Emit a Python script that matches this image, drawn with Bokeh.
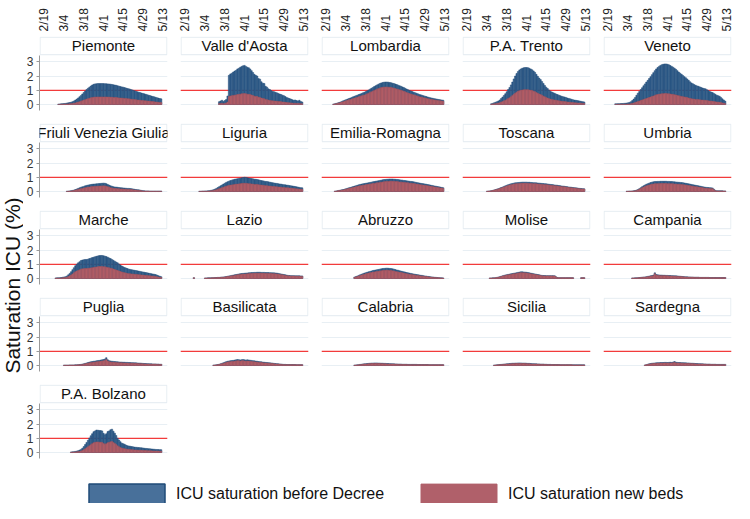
import math
import numpy as np
from bokeh.plotting import figure
from bokeh.layouts import row, column
from bokeh.models import (Range1d, LinearAxis, FixedTicker, Span, Grid, Label,
                          ColumnDataSource, Legend, LegendItem)
from bokeh.embed import file_html
from bokeh.resources import INLINE
from bokeh.core.properties import value

# ---------------- data ----------------
# x = days counted from 19 Feb 2020
tick_days = [0, 14, 28, 42, 56, 70, 84]
tick_labels = ["2/19", "3/4", "3/18", "4/1", "4/15", "4/29", "5/13"]
y_ticks = [0, 1, 2, 3]
threshold = 1.0
y_label = "Saturation ICU (%)"
legend_labels = ["ICU saturation before Decree", "ICU saturation new beds"]

regions = ["Piemonte", "Valle d'Aosta", "Lombardia", "P.A. Trento", "Veneto",
           "Friuli Venezia Giulia", "Liguria", "Emilia-Romagna", "Toscana", "Umbria",
           "Marche", "Lazio", "Abruzzo", "Molise", "Campania",
           "Puglia", "Basilicata", "Calabria", "Sicilia", "Sardegna",
           "P.A. Bolzano"]
# first day of each region's series (days from 2/19)
start_days = [10, 24, 5, 17, 5, 16, 10, 6, 14, 13, 8, 6, 20, 16, 17, 14, 20, 20, 19, 26, 19]

# daily values, in hundredths of a percent
piemonte_before = [3,4,5,6,7,8,10,12,14,16, 20,25,31,38,46,55,63,74,85,95, 105,114,122,130,137,142,145,146,147,147, 147,147,147,146,146,145,144,143,141,139, 137,135,132,129,127,124,122,119,116,113, 110,107,104,100,97,94,90,87,84,81, 78,75,72,69,66,63,60,57,54,51, 48,45,42,40]
piemonte_new = [1,1,2,2,3,3,4,4,5,6, 7,9,11,14,17,20,23,27,31,34, 38,41,44,47,49,51,52,53,53,53, 53,53,53,53,53,52,52,51,51,50, 49,49,48,46,46,45,44,43,42,41, 40,39,37,36,35,34,32,31,30,29, 28,27,26,25,24,23,22,21,19,18, 17,16,15,14]

valle_aosta_before = [20,25,30,22,28,35, 60,205,215,220,228,235,240,250,255,262, 268,272,275,268,262,258,250,238,225,212, 205,200,182,178,160,150,148,128,122,110, 105,98,92,90,86,82,78,74,70,66, 62,56,50,46,42,38,34,30,32,28, 25,30,22,18]
valle_aosta_new = [6,7,8,6,8,10, 17,57,60,62,64,66,67,70,71,73, 75,76,77,75,73,72,70,67,63,59, 57,56,51,50,45,42,41,36,34,31, 29,27,26,25,24,23,22,21,20,18, 17,16,14,13,12,11,10,8,9,8, 7,8,6,5]

lombardia_before = [3,5,8,11,14, 18,22,26,30,34,38,42,46,50,54, 58,62,66,70,74,78,82,86,91,96, 102,108,114,120,126,132,138,143,148,152, 155,157,158,158,157,155,153,150,147,144, 140,136,132,128,124,119,114,109,104,99, 95,91,87,83,79,75,71,68,65,62, 59,56,53,50,47,45,43,41,39,37, 35,33,32,30]
lombardia_new = [2,4,6,9,11, 14,17,20,23,27,30,33,36,39,42, 45,48,51,55,58,61,64,67,71,75, 80,84,89,94,98,103,108,112,115,119, 121,122,123,123,122,121,119,117,115,112, 109,106,103,100,97,93,89,85,81,77, 74,71,68,65,62,59,55,53,51,48, 46,44,41,39,37,35,34,32,30,29, 27,26,25,23]

trento_before = [5,8,12, 16,20,25,32,42,52,64,76,90,105, 120,138,158,180,200,218,232,243,250,255, 258,260,260,259,255,250,244,236,226,212, 198,186,175,162,148,134,122,112,102,94, 88,83,79,74,70,66,62,58,55,53, 50,46,43,40,37,34,31,30,28,26, 24,22,20,18]
trento_new = [2,3,5, 6,8,10,13,17,21,26,30,36,42, 48,55,63,72,80,87,93,97,100,102, 103,104,104,104,102,100,98,94,90,85, 79,74,70,65,59,54,49,45,41,38, 35,33,32,30,28,26,25,23,22,21, 20,18,17,16,15,14,12,12,11,10, 10,9,8,7]

veneto_before = [5,5,6,6,7, 7,8,9,10,12,15,20,28,38,50, 65,80,92,105,118,132,145,158,170,183, 196,210,224,238,250,260,268,275,280,283, 285,285,283,279,274,268,262,255,247,238, 228,220,212,204,196,188,180,170,160,152, 146,140,135,131,128,124,120,116,112,110, 104,98,92,88,84,78,72,66,62,58, 50,40,32,24]
veneto_new = [1,1,2,2,2, 2,2,2,3,3,4,5,8,10,14, 18,22,25,28,32,36,39,43,46,49, 53,57,60,64,68,70,72,74,76,76, 77,77,76,75,74,72,71,69,67,64, 62,59,57,55,53,51,49,46,43,41, 39,38,36,35,35,33,32,31,30,30, 28,26,25,24,23,21,19,18,17,16, 14,11,9,6]

friuli_before = [2,3,4,6, 8,10,14,18,22,26,30,33,36,40, 43,45,47,49,51,52,53,54,55,56, 57,58,59,58,55,50,45,40,37,34, 32,31,30,28,27,26,25,24,23,22, 22,21,20,18,16,14,13,12,10,8, 6,5,4,4,4,3,3,3,3,3, 3,3,3,3]
friuli_new = [1,2,3,4, 5,7,10,12,15,18,20,22,24,27, 29,31,32,33,35,35,36,37,37,38, 39,39,40,39,37,34,31,27,25,23, 22,21,20,19,18,18,17,16,16,15, 15,14,14,12,11,10,9,8,7,5, 4,3,3,3,3,2,2,2,2,2, 2,2,2,2]

liguria_before = [2,2,3,3,4,4,5,6,8,10, 13,17,22,28,34,40,46,52,58,64, 69,73,77,80,83,86,88,90,92,94, 96,98,100,99,97,95,93,91,89,87, 86,84,82,79,77,75,73,71,70,68, 66,64,62,60,58,57,55,53,52,50, 48,47,45,44,42,40,39,37,35,33, 31,29,27,26]
liguria_new = [1,1,2,2,2,2,3,3,5,6, 8,10,13,16,20,23,27,30,34,37, 40,42,45,46,48,50,51,52,53,55, 56,57,58,57,56,55,54,53,52,50, 50,49,48,46,45,44,42,41,41,39, 38,37,36,35,34,33,32,31,30,29, 28,27,26,26,24,23,23,21,20,19, 18,17,16,15]

emilia_before = [2,4,6,8, 10,12,14,17,20,23,26,29,32,35, 38,41,44,47,50,52,54,56,58,60, 62,64,66,68,70,72,74,76,78,80, 82,84,85,86,87,88,88,88,87,86, 85,84,82,81,80,78,77,75,74,72, 71,70,68,66,64,62,60,58,56,55, 53,51,49,47,45,43,41,39,37,35, 33,31,29,27]
emilia_new = [2,3,5,7, 8,10,11,14,16,19,21,24,26,29, 31,34,36,39,41,43,44,46,48,49, 51,52,54,56,57,59,61,62,64,66, 67,69,70,71,71,72,72,72,71,71, 70,69,67,66,66,64,63,62,61,59, 58,57,56,54,52,51,49,48,46,45, 43,42,40,39,37,35,34,32,30,29, 27,25,24,22]

toscana_before = [2,3,4,6,8,11, 14,17,20,24,28,32,36,40,44,48, 51,54,57,59,61,62,63,64,65,66, 66,66,66,65,65,64,63,62,62,61, 60,59,58,57,56,55,54,53,51,50, 49,48,46,45,44,42,41,39,38,37, 35,34,32,31,30,28,27,26,25,23, 22,21,20,19]
toscana_new = [2,3,4,5,7,10, 12,15,18,21,25,28,32,35,39,42, 45,48,50,52,54,55,55,56,57,58, 58,58,58,57,57,56,55,55,55,54, 53,52,51,50,49,48,48,47,45,44, 43,42,40,40,39,37,36,34,33,33, 31,30,28,27,26,25,24,23,22,20, 19,18,18,17]

umbria_before = [2,2,3,3,4,5,7, 10,14,20,27,34,40,46,51,55,59, 63,66,68,70,70,71,71,72,72,72, 72,72,71,71,70,70,69,68,67,66, 65,64,63,62,60,58,56,54,52,50, 48,46,44,42,40,38,36,34,32,30, 29,28,27,26,25,16,8,5,5,5, 5,5,4,4]
umbria_new = [1,2,2,2,3,4,5, 8,11,16,21,27,31,36,40,43,46, 49,51,53,55,55,55,55,56,56,56, 56,56,55,55,55,55,54,53,52,51, 51,50,49,48,47,45,44,42,41,39, 37,36,34,33,31,30,28,27,25,23, 23,22,21,20,20,12,6,4,4,4, 4,4,3,3]

marche_before = [4,5, 5,6,7,9,11,13,18,26,36,48, 62,76,90,100,110,118,126,130,132,134, 134,136,140,143,147,150,153,156,159,161, 162,162,160,157,154,150,145,140,134,128, 122,116,110,102,95,88,82,78,74,70, 66,64,62,60,58,56,54,52,50,48, 46,44,42,40,38,36,34,32,30,28, 24,20,16,13]
marche_new = [2,3, 3,3,4,5,6,7,9,14,19,25, 32,40,47,52,57,61,66,68,69,70, 70,71,73,74,76,78,80,81,83,84, 84,84,83,82,80,78,75,73,70,67, 63,60,57,53,49,46,43,41,38,36, 34,33,32,31,30,29,28,27,26,25, 24,23,22,21,20,19,18,17,16,15, 12,10,8,7]

lazio_before = [6,None,None,None, None,None,None,None,4,4,5,5,5,6, 6,7,7,8,8,9,10,11,12,14, 16,18,20,22,24,26,28,30,32,34, 35,36,37,38,39,40,41,42,42,43, 43,44,44,44,43,43,43,42,42,42, 41,41,40,40,39,38,36,34,32,30, 28,26,24,22,21,20,20,20,19,19, 19,19,18,18]
lazio_new = [5,None,None,None, None,None,None,None,3,3,4,4,4,5, 5,6,6,7,7,8,9,9,10,12, 14,15,17,19,20,22,24,26,27,29, 30,31,31,32,33,34,35,36,36,37, 37,37,37,37,37,37,37,36,36,36, 35,35,34,34,33,32,31,29,27,26, 24,22,20,19,18,17,17,17,16,16, 16,16,15,15]

abruzzo_before = [10,14,18,22,26,30,34,38,41,44, 47,50,53,56,58,60,62,64,66,68, 70,71,72,73,72,71,70,68,66,63, 60,58,55,52,50,47,45,42,40,38, 36,34,32,30,28,27,25,23,22,20, 18,17,15,14,12,11,10,9,8,7, 6,5,5,4]
abruzzo_new = [8,11,14,18,21,24,27,30,33,35, 38,40,42,45,46,48,50,51,53,54, 56,57,58,58,58,57,56,54,53,50, 48,46,44,42,40,38,36,34,32,30, 29,27,26,24,22,22,20,18,18,16, 14,14,12,11,10,9,8,7,6,6, 5,4,4,3]

molise_before = [4,4,5,5, 6,8,10,13,16,19,22,25,27,29, 31,33,35,37,39,41,43,45,47,47, 46,45,44,42,40,38,36,34,32,30, 28,26,24,22,21,21,20,20,20,20, 20,20,19,12,7,6,6,6,6,6, 6,6,6,6,6,6,None,None,None,None, None,6,6,6]
molise_new = [3,3,4,4, 5,7,9,11,14,17,19,22,24,26, 27,29,31,33,34,36,38,40,41,41, 40,40,39,37,35,33,32,30,28,26, 25,23,21,19,18,18,18,18,18,18, 18,18,17,11,6,5,5,5,5,5, 5,5,5,5,5,5,None,None,None,None, None,5,5,5]

campania_before = [4,4,5, 5,6,7,8,9,10,11,13,15,17, 19,21,24,40,28,26,25,24,24,23, 23,22,22,21,21,20,20,19,19,18, 17,16,15,14,13,12,12,11,11,10, 10,9,9,9,9,8,8,8,8,8, 8,8,7,7,7,7,7,7,7,7, 7,7,7,7]
campania_new = [3,3,4, 4,5,6,7,8,9,9,11,13,14, 16,18,20,34,24,22,21,20,20,20, 20,19,19,18,18,17,17,16,16,15, 14,14,13,12,11,10,10,9,9,9, 9,8,8,8,8,7,7,7,7,7, 7,7,6,6,6,6,6,6,6,6, 6,6,6,6]

puglia_before = [3,3,3,3,4,4, 4,4,5,5,6,7,8,10,12,15, 18,21,24,26,28,30,31,33,35,36, 38,40,42,46,55,40,34,32,30,29, 28,27,26,25,24,24,23,23,22,22, 21,21,20,20,19,19,18,17,17,16, 15,14,14,13,13,12,12,11,11,11, 10,10,9,9]
puglia_new = [2,2,2,2,3,3, 3,3,4,4,5,5,6,8,9,12, 14,16,19,20,22,23,24,26,27,28, 30,31,33,36,43,31,27,25,23,23, 22,21,20,20,19,19,18,18,17,17, 16,16,16,16,15,15,14,13,13,12, 12,11,11,10,10,9,9,9,9,9, 8,8,7,7]

basilicata_before = [3,4,5,7,9,12,15,19,23,27, 30,32,34,35,36,38,40,42,41,39, 41,42,40,38,40,39,37,36,34,33, 31,30,28,27,26,24,23,22,21,20, 19,18,17,15,14,13,12,11,10,9, 8,8,7,7,7,7,7,7,7,6, 6,6,6,6]
basilicata_new = [2,3,4,6,7,10,12,15,18,22, 24,26,27,28,29,30,32,34,33,31, 33,34,32,30,32,31,30,29,27,26, 25,24,22,22,21,19,18,18,17,16, 15,14,14,12,11,10,10,9,8,7, 6,6,6,6,6,6,6,6,6,5, 5,5,5,5]

calabria_before = [3,4,5,6,8,9,11,12,13,14, 15,16,17,17,18,18,18,17,17,16, 16,15,15,14,14,13,13,12,12,11, 11,10,10,10,9,9,9,9,8,8, 8,8,8,8,8,7,7,7,7,7, 7,7,7,6,6,6,6,6,6,6, 6,6,6,6]
calabria_new = [2,3,4,5,6,7,9,10,10,11, 12,13,14,14,14,14,14,14,14,13, 13,12,12,11,11,10,10,10,10,9, 9,8,8,8,7,7,7,7,6,6, 6,6,6,6,6,6,6,6,6,6, 6,6,6,5,5,5,5,5,5,5, 5,5,5,5]

sicilia_before = [3, 4,5,6,7,8,9,10,11,12,13, 14,15,16,16,17,17,18,18,18,17, 17,17,16,15,15,14,13,13,12,12, 11,11,10,10,10,9,9,8,8,8, 7,7,7,7,7,7,6,6,6,6, 6,6,6,6,6,5,5,5,5,5, 5,5,5,5]
sicilia_new = [2, 3,4,5,6,6,7,8,9,10,10, 11,12,13,13,14,14,14,14,14,14, 14,14,13,12,12,11,10,10,10,10, 9,9,8,8,8,7,7,6,6,6, 6,6,6,6,6,6,5,5,5,5, 5,5,5,5,5,4,4,4,4,4, 4,4,4,4]

sardegna_before = [4,6,9,12, 14,16,17,18,19,20,20,21,21,21, 22,22,21,22,23,22,24,28,23,22, 21,21,20,20,19,19,18,18,17,16, 16,15,14,14,13,13,12,12,11,11, 10,10,10,9,9,9,9,8,8,8, 8,8,8,8]
sardegna_new = [3,5,7,10, 11,13,14,14,15,16,16,17,17,17, 18,18,17,18,18,18,19,22,18,18, 17,17,16,16,15,15,14,14,14,13, 13,12,11,11,10,10,10,10,9,9, 8,8,8,7,7,7,7,6,6,6, 6,6,6,6]

bolzano_before = [4, 5,6,8,10,13,17,22,30,42,56, 70,86,102,118,132,146,152,158,157,155, 154,152,135,125,132,147,152,160,164,150, 136,120,100,88,76,66,62,58,52,48, 46,44,42,40,38,37,36,35,34,33, 32,30,29,28,27,26,25,24,23,22, 21,21,20,20]
bolzano_new = [2, 2,3,4,5,6,8,10,14,20,26, 33,40,48,55,62,69,71,74,74,73, 72,71,63,59,62,69,71,75,77,71, 64,56,47,41,36,31,29,27,24,23, 22,21,20,19,18,17,17,16,16,16, 15,14,14,13,13,12,12,11,11,10, 10,10,9,9]

series_before = [piemonte_before, valle_aosta_before, lombardia_before, trento_before, veneto_before,
                 friuli_before, liguria_before, emilia_before, toscana_before, umbria_before,
                 marche_before, lazio_before, abruzzo_before, molise_before, campania_before,
                 puglia_before, basilicata_before, calabria_before, sicilia_before, sardegna_before,
                 bolzano_before]
series_new = [piemonte_new, valle_aosta_new, lombardia_new, trento_new, veneto_new,
              friuli_new, liguria_new, emilia_new, toscana_new, umbria_new,
              marche_new, lazio_new, abruzzo_new, molise_new, campania_new,
              puglia_new, basilicata_new, calabria_new, sicilia_new, sardegna_new,
              bolzano_new]

# ---------------- style / layout ----------------
FONT = "Liberation Sans"
BLUE, BLUE_EDGE = "#33618f", "#204b77"
RED, RED_EDGE = "#b8646d", "#a2505b"
X_RANGE = (-3.5, 87.5)
Y_RANGE = (-0.42, 4.78)
TITLE_BOTTOM = 3.5
FRAME_W, FRAME_H = 128, 74
NCOL = 5
YLAB_W = 23
LEFT_FIRST, LEFT_OTHER, RIGHT = 16, 10, 3
TOP_FIRST, TOP_OTHER, BOTTOM = 36, 10, 3
TOTAL_H = 503


def panel(i, col, first_row):
    left = LEFT_FIRST if col == 0 else LEFT_OTHER
    top = TOP_FIRST if first_row else TOP_OTHER
    p = figure(width=left + FRAME_W + RIGHT, height=top + FRAME_H + BOTTOM,
               x_range=Range1d(*X_RANGE), y_range=Range1d(*Y_RANGE),
               x_axis_type=None, y_axis_type=None,
               output_backend="svg", toolbar_location=None,
               min_border_left=left, min_border_right=RIGHT,
               min_border_top=top, min_border_bottom=BOTTOM)
    p.outline_line_color = None
    p.add_layout(Grid(dimension=1, ticker=FixedTicker(ticks=y_ticks),
                      grid_line_color="#e8eff4", grid_line_width=1))
    p.add_layout(Span(location=threshold, dimension="width", line_color="#f23b3b",
                      line_width=1.3, level="underlay"))
    # title strip
    p.quad(left=[X_RANGE[0] + 0.4], right=[X_RANGE[1] - 0.4],
           bottom=[TITLE_BOTTOM], top=[Y_RANGE[1] - 0.05],
           fill_color="white", line_color="#e2eaf0", line_width=1)
    p.add_layout(Label(x=(X_RANGE[0] + X_RANGE[1]) / 2, y=(TITLE_BOTTOM + Y_RANGE[1]) / 2,
                       text=regions[i], text_align="center", text_baseline="middle",
                       text_font=FONT, text_font_size="15px", text_color="#111111"))
    # bars
    s = start_days[i]
    b = np.array(series_before[i], dtype=float) / 100.0
    n = np.array(series_new[i], dtype=float) / 100.0
    src_b = ColumnDataSource(dict(day=np.arange(s, s + len(b)), v=b))
    src_n = ColumnDataSource(dict(day=np.arange(s, s + len(n)), v=n))
    p.vbar(x="day", top="v", bottom=0, width=1.0, source=src_b,
           fill_color=BLUE, line_color=BLUE_EDGE, line_width=0.5)
    p.vbar(x="day", top="v", bottom=0, width=1.0, source=src_n,
           fill_color=RED, line_color=RED_EDGE, line_width=0.5)
    if col == 0:
        ax = LinearAxis(ticker=FixedTicker(ticks=y_ticks), bounds=(Y_RANGE[0], 3.45))
        ax.axis_line_color = "#9a9a9a"
        ax.major_tick_line_color = "#9a9a9a"
        ax.major_tick_out = 3
        ax.major_tick_in = 0
        ax.minor_tick_line_color = None
        ax.major_label_text_font = FONT
        ax.major_label_text_font_size = "12px"
        ax.major_label_text_color = "#333333"
        ax.major_label_standoff = 3
        p.add_layout(ax, "left")
    if first_row:
        overrides = {d: lab for d, lab in zip(tick_days, tick_labels)}
        a = LinearAxis(ticker=FixedTicker(ticks=tick_days), major_label_overrides=overrides)
        a.major_label_orientation = math.pi / 2
        a.axis_line_color = None
        a.major_tick_line_color = None
        a.major_tick_out = 0
        a.major_tick_in = 0
        a.minor_tick_line_color = None
        a.major_label_standoff = 5
        a.major_label_text_font = FONT
        a.major_label_text_font_size = "12px"
        a.major_label_text_color = "#222222"
        p.add_layout(a, "above")
    return p


grid_rows = []
for r in range(0, len(regions), NCOL):
    figs = [panel(i, i - r, r == 0) for i in range(r, min(r + NCOL, len(regions)))]
    grid_rows.append(row(*figs, spacing=0))

GRID_W = LEFT_FIRST + FRAME_W + RIGHT + (NCOL - 1) * (LEFT_OTHER + FRAME_W + RIGHT)
GRID_H = (TOP_FIRST + FRAME_H + BOTTOM) + 4 * (TOP_OTHER + FRAME_H + BOTTOM)

# legend strip
leg = figure(width=GRID_W, height=TOTAL_H - GRID_H, x_range=Range1d(0, 1), y_range=Range1d(0, 1),
             x_axis_type=None, y_axis_type=None, output_backend="svg",
             toolbar_location=None, min_border=0)
leg.outline_line_color = None
# legend swatches only: one undefined (NaN) sample each, so nothing is drawn in the strip
src_lb = ColumnDataSource(dict(x=np.array([np.nan]), top=np.array([np.nan])))
src_ln = ColumnDataSource(dict(x=np.array([np.nan]), top=np.array([np.nan])))
rb = leg.vbar(x="x", top="top", bottom=0, width=0.1, source=src_lb,
              fill_color="#48709a", line_color="#1f4b78", line_width=1.5)
rn = leg.vbar(x="x", top="top", bottom=0, width=0.1, source=src_ln,
              fill_color="#b0606a", line_color="#b0606a", line_width=1)
legend = Legend(items=[LegendItem(label=legend_labels[0], renderers=[rb]),
                       LegendItem(label=legend_labels[1], renderers=[rn])],
                orientation="horizontal", location=(56, -4),
                glyph_width=95, glyph_height=26, label_standoff=2, spacing=27,
                padding=0, margin=0, border_line_color=None, background_fill_alpha=0,
                label_text_font=FONT, label_text_font_size="16px",
                label_text_color="#111111")
leg.add_layout(legend)

# y-axis title strip
ylab = figure(width=YLAB_W, height=TOTAL_H, x_range=Range1d(0, YLAB_W), y_range=Range1d(0, TOTAL_H),
              x_axis_type=None, y_axis_type=None, output_backend="svg",
              toolbar_location=None, min_border=0)
ylab.outline_line_color = None
ylab.text(x=[YLAB_W / 2], y=[218], text=[y_label], angle=math.pi / 2,
          text_align="center", text_baseline="middle",
          text_font=value(FONT), text_font_size="21px", text_color="#111111")

layout = row(ylab, column(*grid_rows, leg, spacing=0), spacing=0)

open("out.html", "w").write(file_html(layout, INLINE))
